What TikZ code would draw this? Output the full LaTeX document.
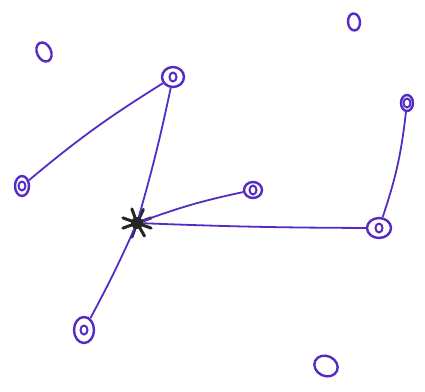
\documentclass[tikz,border=0pt]{standalone}
\usetikzlibrary{shapes.geometric}
\definecolor{ink}{RGB}{84,44,196}

\begin{document}
\begin{tikzpicture}[
    x=1pt, y=-1pt,
    knot/.style={
      ellipse, draw=ink, line width=2.4pt, minimum width=16pt, minimum height=18pt,
      inner sep=0pt,
      path picture={\draw[ink, line width=2pt] (path picture bounding box.center) ellipse (3.5pt and 4.5pt);}
    },
    loop/.style={ellipse, draw=ink, line width=2.4pt, minimum width=14pt, minimum height=20pt, inner sep=0pt, rotate=25},
    hub/.style={circle, fill=black!85, minimum size=12pt, inner sep=0pt},
    wire/.style={draw=ink, line width=1.8pt}
]
\useasboundingbox (0,0) rectangle (425,391);

% Loose loops
\node[loop] (a) at (44,52) {};
\node[loop, minimum width=12pt, minimum height=17pt, rotate=-20] (b) at (354,22) {};
\node[loop, minimum width=20pt, minimum height=24pt, rotate=40] (j) at (326,366) {};

% Knots
\node[knot, minimum width=22pt, minimum height=20pt] (c) at (173,77) {};
\node[knot, minimum width=12pt, minimum height=16pt] (d) at (407,103) {};
\node[knot, minimum width=14pt, minimum height=20pt] (e) at (22,186) {};
\node[knot, minimum width=18pt, minimum height=16pt] (f) at (253,190) {};
\node[knot, minimum width=24pt, minimum height=20pt] (h) at (379,228) {};
\node[knot, minimum width=20pt, minimum height=26pt] (i) at (84,330) {};

% Hub
\node[hub] (g) at (137,223) {};
\foreach \ang in {20,65,110,160,200,250,300,340}
  \draw[black!85, line width=3pt, line cap=round] (g.center) -- ++(\ang:15pt);

% Connectors
\draw[wire] (c) to[bend right=4] (e);
\draw[wire] (c) to[bend left=2] (g);
\draw[wire] (g) to[bend left=4] (f);
\draw[wire] (g) to[bend right=1] (h);
\draw[wire] (h) to[bend right=6] (d);
\draw[wire] (g) to[bend left=2] (i);

\end{tikzpicture}
\end{document}
